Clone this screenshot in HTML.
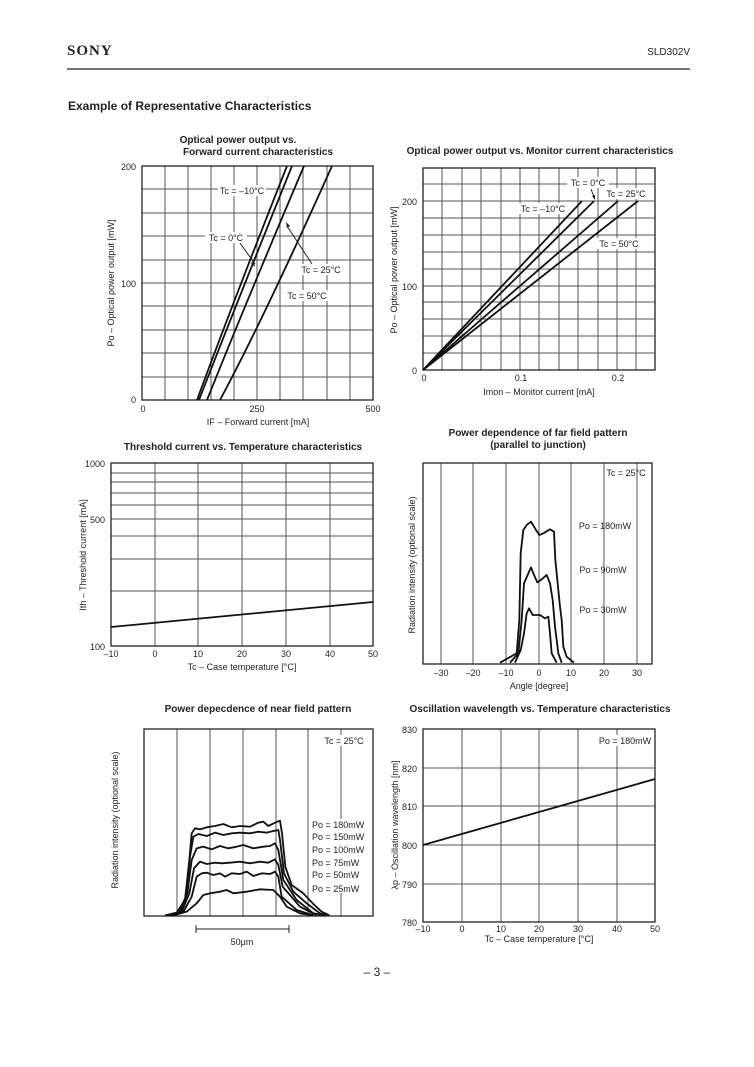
<!DOCTYPE html>
<html><head><meta charset="utf-8"><style>
html,body{margin:0;padding:0;background:#fff;width:754px;height:1067px;overflow:hidden}
svg{display:block}
text{font-family:"Liberation Sans",sans-serif;fill:#222}
.t{font-size:9px}
.b{font-size:10px;font-weight:bold}
.g{stroke:#555;stroke-width:1;fill:none}
.f{stroke:#222;stroke-width:1.3;fill:none}
.c{stroke:#111;stroke-width:1.8;fill:none}
.cs{stroke:#111;stroke-width:5.5;fill:none;stroke-linejoin:round}
</style></head><body>
<svg width="754" height="1067" viewBox="0 0 754 1067" xmlns="http://www.w3.org/2000/svg">
<text x="67" y="55" style="font-family:'Liberation Serif',serif;font-weight:bold;font-size:15px;letter-spacing:1px">SONY</text>
<text x="690" y="55" class="t" text-anchor="end" style="font-size:10px">SLD302V</text>
<line x1="67" y1="69" x2="690" y2="69" stroke="#222" stroke-width="1.3"/>
<text x="68" y="110" style="font-weight:bold;font-size:12px">Example of Representative Characteristics</text>

<!-- Chart 1 -->
<text x="238" y="143" class="b" text-anchor="middle">Optical power output vs.</text>
<text x="258" y="155" class="b" text-anchor="middle">Forward current characteristics</text>
<g class="g">
<path d="M165,166V400M188,166V400M211,166V400M234,166V400M257,166V400M280,166V400M303,166V400M327,166V400M350,166V400"/>
<path d="M142,189H373M142,213H373M142,236H373M142,260H373M142,283H373M142,306H373M142,330H373M142,353H373M142,377H373"/>
</g>
<rect x="142" y="166" width="231" height="234" class="f"/>
<path class="c" d="M197,400Q232,305 287,166M199,400Q236,305 292,166M207,400Q245,305 304,166M220,400Q263,320 332,166"/>
<rect x="218" y="185" width="48" height="11" fill="#fff"/><text x="242" y="194" class="t" text-anchor="middle">Tc = –10°C</text>
<rect x="205" y="232" width="42" height="11" fill="#fff"/><text x="226" y="241" class="t" text-anchor="middle">Tc = 0°C</text>
<path d="M240,243L255,264" stroke="#222" fill="none"/><path d="M255,267l-4,-4l3,-2z" fill="#222"/>
<rect x="298" y="264" width="46" height="11" fill="#fff"/><text x="321" y="273" class="t" text-anchor="middle">Tc = 25°C</text>
<path d="M312,264L287,226" stroke="#222" fill="none"/><path d="M286,222l1,6l3,-2z" fill="#222"/>
<rect x="284" y="290" width="46" height="11" fill="#fff"/><text x="307" y="299" class="t" text-anchor="middle">Tc = 50°C</text>
<text x="136" y="170" class="t" text-anchor="end">200</text>
<text x="136" y="287" class="t" text-anchor="end">100</text>
<text x="136" y="403" class="t" text-anchor="end">0</text>
<text x="143" y="412" class="t" text-anchor="middle">0</text>
<text x="257" y="412" class="t" text-anchor="middle">250</text>
<text x="373" y="412" class="t" text-anchor="middle">500</text>
<text x="258" y="425" class="t" text-anchor="middle">IF – Forward current [mA]</text>
<text transform="translate(114,283) rotate(-90)" class="t" text-anchor="middle">Po – Optical power output [mW]</text>

<!-- Chart 2 -->
<text x="540" y="154" class="b" text-anchor="middle">Optical power output vs. Monitor current characteristics</text>
<g class="g">
<path d="M442,168V370M462,168V370M481,168V370M501,168V370M520,168V370M539,168V370M559,168V370M578,168V370M598,168V370M617,168V370M636,168V370"/>
<path d="M423,184H655M423,201H655M423,218H655M423,235H655M423,252H655M423,269H655M423,286H655M423,302H655M423,319H655M423,336H655M423,353H655"/>
</g>
<rect x="423" y="168" width="232" height="202" class="f"/>
<path class="c" d="M423,370L582,201M423,370L594,201M423,370L618,201M423,370L638,201"/>
<rect x="567" y="177" width="42" height="11" fill="#fff"/><text x="588" y="186" class="t" text-anchor="middle">Tc = 0°C</text>
<path d="M591,189L594,197" stroke="#222"/><path d="M595,200l-3,-4l3,-1z" fill="#222"/>
<rect x="603" y="188" width="46" height="11" fill="#fff"/><text x="626" y="197" class="t" text-anchor="middle">Tc = 25°C</text>
<rect x="518" y="203" width="50" height="11" fill="#fff"/><text x="543" y="212" class="t" text-anchor="middle">Tc = –10°C</text>
<rect x="596" y="238" width="46" height="11" fill="#fff"/><text x="619" y="247" class="t" text-anchor="middle">Tc = 50°C</text>
<text x="417" y="205" class="t" text-anchor="end">200</text>
<text x="417" y="290" class="t" text-anchor="end">100</text>
<text x="417" y="374" class="t" text-anchor="end">0</text>
<text x="424" y="381" class="t" text-anchor="middle">0</text>
<text x="521" y="381" class="t" text-anchor="middle">0.1</text>
<text x="618" y="381" class="t" text-anchor="middle">0.2</text>
<text x="539" y="395" class="t" text-anchor="middle">Imon – Monitor current [mA]</text>
<text transform="translate(397,270) rotate(-90)" class="t" text-anchor="middle">Po – Optical power output [mW]</text>

<!-- Chart 3 -->
<text x="243" y="450" class="b" text-anchor="middle">Threshold current vs. Temperature characteristics</text>
<g class="g">
<path d="M155,463V646M198,463V646M242,463V646M286,463V646M330,463V646"/>
<path d="M111,591H373M111,559H373M111,536H373M111,519H373M111,505H373M111,493H373M111,482H373M111,473H373"/>
</g>
<rect x="111" y="463" width="262" height="183" class="f"/>
<path class="c" d="M111,627L373,602"/>
<text x="105" y="467" class="t" text-anchor="end">1000</text>
<text x="105" y="523" class="t" text-anchor="end">500</text>
<text x="105" y="650" class="t" text-anchor="end">100</text>
<text x="111" y="657" class="t" text-anchor="middle">–10</text>
<text x="155" y="657" class="t" text-anchor="middle">0</text>
<text x="198" y="657" class="t" text-anchor="middle">10</text>
<text x="242" y="657" class="t" text-anchor="middle">20</text>
<text x="286" y="657" class="t" text-anchor="middle">30</text>
<text x="330" y="657" class="t" text-anchor="middle">40</text>
<text x="373" y="657" class="t" text-anchor="middle">50</text>
<text x="242" y="670" class="t" text-anchor="middle">Tc – Case temperature [°C]</text>
<text transform="translate(86,555) rotate(-90)" class="t" text-anchor="middle">Ith – Threshold current [mA]</text>

<!-- Chart 4 -->
<text x="538" y="436" class="b" text-anchor="middle">Power dependence of far field pattern</text>
<text x="538" y="448" class="b" text-anchor="middle">(parallel to junction)</text>
<g class="g"><path d="M441,463V664M473,463V664M506,463V664M539,463V664M571,463V664M604,463V664M637,463V664"/></g>
<rect x="423" y="463" width="229" height="201" class="f"/>
<g transform="translate(400,420) scale(0.33333)">
<polyline class="cs" points="300,728 350,700 358,600 362,400 370,330 380,315 393,305 405,325 418,345 430,340 450,328 462,335 466,420 480,560 485,600 490,680 500,710 522,728"/>
<polyline class="cs" points="330,728 355,700 365,600 372,490 385,460 393,442 402,465 412,487 425,478 440,465 450,490 458,540 465,620 475,700 485,728"/>
<polyline class="cs" points="345,728 362,690 372,640 380,580 387,565 398,585 420,585 435,595 445,590 450,640 455,700 470,728"/>
</g>
<text x="626" y="476" class="t" text-anchor="middle">Tc = 25°C</text>
<text x="605" y="529" class="t" text-anchor="middle">Po = 180mW</text>
<text x="603" y="573" class="t" text-anchor="middle">Po = 90mW</text>
<text x="603" y="613" class="t" text-anchor="middle">Po = 30mW</text>
<text x="441" y="676" class="t" text-anchor="middle">–30</text>
<text x="473" y="676" class="t" text-anchor="middle">–20</text>
<text x="506" y="676" class="t" text-anchor="middle">–10</text>
<text x="539" y="676" class="t" text-anchor="middle">0</text>
<text x="571" y="676" class="t" text-anchor="middle">10</text>
<text x="604" y="676" class="t" text-anchor="middle">20</text>
<text x="637" y="676" class="t" text-anchor="middle">30</text>
<text x="539" y="689" class="t" text-anchor="middle">Angle [degree]</text>
<text transform="translate(415,565) rotate(-90)" class="t" text-anchor="middle">Radiation intensity (optional scale)</text>

<!-- Chart 5 -->
<text x="258" y="712" class="b" text-anchor="middle">Power depecdence of near field pattern</text>
<g class="g"><path d="M177,729V916M210,729V916M243,729V916M276,729V916M308,729V916M341,729V916"/></g>
<rect x="144" y="729" width="229" height="187" class="f"/>
<g transform="translate(100,700) scale(0.33333)">
<polyline class="cs" points="195,646 230,638 255,600 268,480 275,400 285,385 300,388 320,382 345,378 370,372 395,382 420,378 450,380 475,368 490,365 505,378 525,368 540,362 546,400 556,500 575,555 610,580 640,612 665,635 688,646"/>
<polyline class="cs" points="200,646 235,638 258,590 270,470 280,410 295,402 320,408 345,398 370,405 395,400 420,398 450,400 475,395 500,398 525,392 535,390 540,420 552,520 580,575 620,610 660,640 680,646"/>
<polyline class="cs" points="205,646 240,636 262,580 275,480 290,445 310,440 335,448 360,438 385,445 410,440 430,435 460,445 490,440 510,438 525,430 535,450 550,540 590,600 640,640 670,646"/>
<polyline class="cs" points="210,646 245,636 268,580 282,505 300,485 320,492 345,488 365,490 390,488 420,485 450,490 480,485 505,488 525,478 535,495 548,560 600,620 650,646"/>
<polyline class="cs" points="215,646 250,636 275,590 290,530 305,520 320,518 340,525 360,520 375,530 395,520 420,522 440,515 460,528 485,520 510,522 525,515 535,530 545,590 590,630 640,646"/>
<polyline class="cs" points="220,646 260,635 290,610 310,585 330,580 360,575 380,570 400,580 440,575 480,568 520,570 540,590 560,620 600,640 640,646"/>
</g>
<rect x="320" y="735" width="48" height="11" fill="#fff"/><text x="344" y="744" class="t" text-anchor="middle">Tc = 25°C</text>
<g class="t">
<rect x="311" y="819" width="58" height="74" fill="#fff"/>
<text x="312" y="828">Po = 180mW</text>
<text x="312" y="840">Po = 150mW</text>
<text x="312" y="853">Po = 100mW</text>
<text x="312" y="866">Po = 75mW</text>
<text x="312" y="878">Po = 50mW</text>
<text x="312" y="892">Po = 25mW</text>
</g>
<path d="M196,925V933M196,929H289M289,925V933" stroke="#222" fill="none"/>
<text x="242" y="945" class="t" text-anchor="middle">50μm</text>
<text transform="translate(118,820) rotate(-90)" class="t" text-anchor="middle">Radiation intensity (optional scale)</text>

<!-- Chart 6 -->
<text x="540" y="712" class="b" text-anchor="middle">Oscillation wavelength vs. Temperature characteristics</text>
<g class="g">
<path d="M462,729V922M501,729V922M539,729V922M578,729V922M617,729V922"/>
<path d="M423,768H655M423,806H655M423,845H655M423,884H655"/>
</g>
<rect x="423" y="729" width="232" height="193" class="f"/>
<path class="c" d="M423,845L655,779"/>
<rect x="596" y="735" width="58" height="11" fill="#fff"/><text x="625" y="744" class="t" text-anchor="middle">Po = 180mW</text>
<text x="417" y="733" class="t" text-anchor="end">830</text>
<text x="417" y="772" class="t" text-anchor="end">820</text>
<text x="417" y="810" class="t" text-anchor="end">810</text>
<text x="417" y="849" class="t" text-anchor="end">800</text>
<text x="417" y="888" class="t" text-anchor="end">790</text>
<text x="417" y="926" class="t" text-anchor="end">780</text>
<text x="423" y="932" class="t" text-anchor="middle">–10</text>
<text x="462" y="932" class="t" text-anchor="middle">0</text>
<text x="501" y="932" class="t" text-anchor="middle">10</text>
<text x="539" y="932" class="t" text-anchor="middle">20</text>
<text x="578" y="932" class="t" text-anchor="middle">30</text>
<text x="617" y="932" class="t" text-anchor="middle">40</text>
<text x="655" y="932" class="t" text-anchor="middle">50</text>
<text x="539" y="942" class="t" text-anchor="middle">Tc – Case temperature [°C]</text>
<text transform="translate(398,825) rotate(-90)" class="t" text-anchor="middle">λp – Oscillation wavelength [nm]</text>

<text x="377" y="976" text-anchor="middle" style="font-size:12px">– 3 –</text>
</svg>
</body></html>
